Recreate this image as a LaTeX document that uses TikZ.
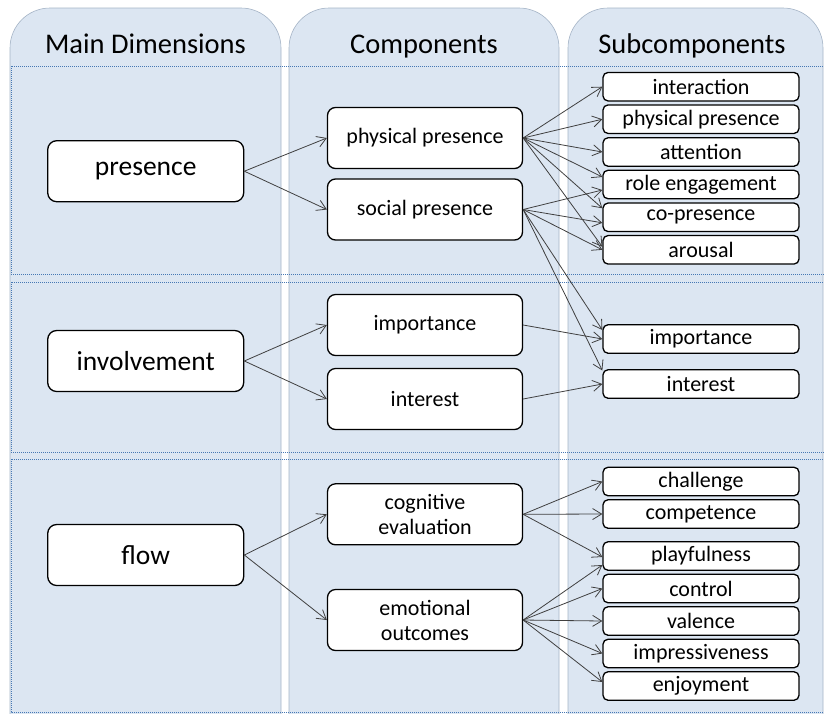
\documentclass[tikz,border=0pt]{standalone}
\usepackage{fontspec}
\setmainfont{Carlito}
\usetikzlibrary{arrows.meta,calc}
\definecolor{panelblue}{RGB}{220,230,242}
\definecolor{paneledge}{RGB}{165,180,198}
\definecolor{dotblue}{RGB}{70,120,180}
\definecolor{arrowgray}{RGB}{64,64,64}
\begin{document}
\begin{tikzpicture}[x=1pt,y=-1pt,
  mainbox/.style={draw=black, line width=1.3pt, fill=white, rounded corners=9pt, minimum width=196pt, minimum height=61pt, font=\fontsize{27.5}{32}\selectfont, inner sep=0pt},
  compbox/.style={draw=black, line width=1.3pt, fill=white, rounded corners=8pt, minimum width=195pt, minimum height=61pt, font=\fontsize{22}{25}\selectfont, align=center, inner sep=0pt},
  subbox/.style={draw=black, line width=1.3pt, fill=white, rounded corners=5pt, minimum width=196pt, minimum height=28.5pt, font=\fontsize{22}{25}\selectfont, inner sep=0pt},
  hdr/.style={font=\fontsize{28.5}{34}\selectfont, anchor=base},
  conn/.style={draw=arrowgray, line width=0.8pt, -{Straight Barb[length=9pt,width=11pt]}},
  panel/.style={fill=panelblue, draw=paneledge, line width=0.6pt, rounded corners=40pt},
  rowbox/.style={draw=dotblue, line width=0.9pt, dash pattern=on 1pt off 1pt}
]
\useasboundingbox (0,0) rectangle (824,713);
\clip (0,0) rectangle (824,713);

% column panels
\path[panel] (10,760) -- (10,8) -- (281,8) -- (281,760) -- cycle;
\path[panel] (289,760) -- (289,8) -- (559,8) -- (559,760) -- cycle;
\path[panel] (568,760) -- (568,8) -- (823,8) -- (823,760) -- cycle;

% row outlines
\draw[rowbox] (11,66) rectangle (830,274);
\draw[rowbox] (11,282) rectangle (830,452);
\draw[rowbox] (11,459) rectangle (830,712);

% headers
\node[hdr] (h1) at (145.5,53) {Main Dimensions};
\node[hdr] (h2) at (424,53) {Components};
\node[hdr] (h3) at (692,53) {Subcomponents};

% main dimensions
\node[mainbox] (presence) at (145.7,171.2) {presence};
\node[mainbox] (involvement) at (145.7,361) {involvement};
\node[mainbox] (flow) at (145.7,555) {flow};

% components
\node[compbox] (cphys) at (425,138) {physical presence};
\node[compbox] (csoc) at (425,209.5) {social presence};
\node[compbox] (cimp) at (425,325) {importance};
\node[compbox] (cint) at (425,399) {interest};
\node[compbox] (ccog) at (425,514.3) {cognitive\\evaluation};
\node[compbox] (cemo) at (425,620) {emotional\\outcomes};

% subcomponents
\node[subbox] (sinter) at (701,86.7) {interaction};
\node[subbox] (sphys) at (701,119.2) {physical presence};
\node[subbox] (satt) at (701,152) {attention};
\node[subbox] (srole) at (701,184.5) {role engagement};
\node[subbox] (scop) at (701,217.3) {co-presence};
\node[subbox] (saro) at (701,249.8) {arousal};
\node[subbox] (simp) at (701,339) {importance};
\node[subbox] (sint) at (701,384) {interest};
\node[subbox] (schal) at (701,481.5) {challenge};
\node[subbox] (scomp) at (701,514) {competence};
\node[subbox] (splay) at (701,556) {playfulness};
\node[subbox] (scont) at (701,588.5) {control};
\node[subbox] (sval) at (701,621) {valence};
\node[subbox] (simpr) at (701,653.5) {impressiveness};
\node[subbox] (senj) at (701,686) {enjoyment};

% main -> components
\draw[conn] (presence.east) -- (cphys.west);
\draw[conn] (presence.east) -- (csoc.west);
\draw[conn] (involvement.east) -- (cimp.west);
\draw[conn] (involvement.east) -- (cint.west);
\draw[conn] (flow.east) -- (ccog.west);
\draw[conn] (flow.east) -- (cemo.west);

% physical presence -> subs
\draw[conn] (cphys.east) -- (sinter.west);
\draw[conn] (cphys.east) -- (sphys.west);
\draw[conn] (cphys.east) -- (satt.west);
\draw[conn] (cphys.east) -- ([yshift=7.5pt]srole.west);
\draw[conn] (cphys.east) -- ([yshift=9pt]scop.west);
\draw[conn] (cphys.east) -- ([yshift=3pt]saro.west);

% social presence -> subs
\draw[conn] (csoc.east) -- ([yshift=-5.5pt]srole.west);
\draw[conn] (csoc.east) -- ([yshift=-5.5pt]scop.west);
\draw[conn] (csoc.east) -- ([yshift=0pt]saro.west);
\draw[conn] (csoc.east) -- ([yshift=9pt]simp.west);
\draw[conn] (csoc.east) -- ([yshift=13.5pt]sint.west);

% involvement components -> subs
\draw[conn] (cimp.east) -- (simp.west);
\draw[conn] (cint.east) -- (sint.west);

% cognitive evaluation -> subs
\draw[conn] (ccog.east) -- (schal.west);
\draw[conn] (ccog.east) -- (scomp.west);
\draw[conn] (ccog.east) -- ([yshift=-1pt]splay.west);

% emotional outcomes -> subs
\draw[conn] (cemo.east) -- ([yshift=-9pt]splay.west);
\draw[conn] (cemo.east) -- (scont.west);
\draw[conn] (cemo.east) -- (sval.west);
\draw[conn] (cemo.east) -- (simpr.west);
\draw[conn] (cemo.east) -- ([yshift=4pt]senj.west);
\end{tikzpicture}
\end{document}
